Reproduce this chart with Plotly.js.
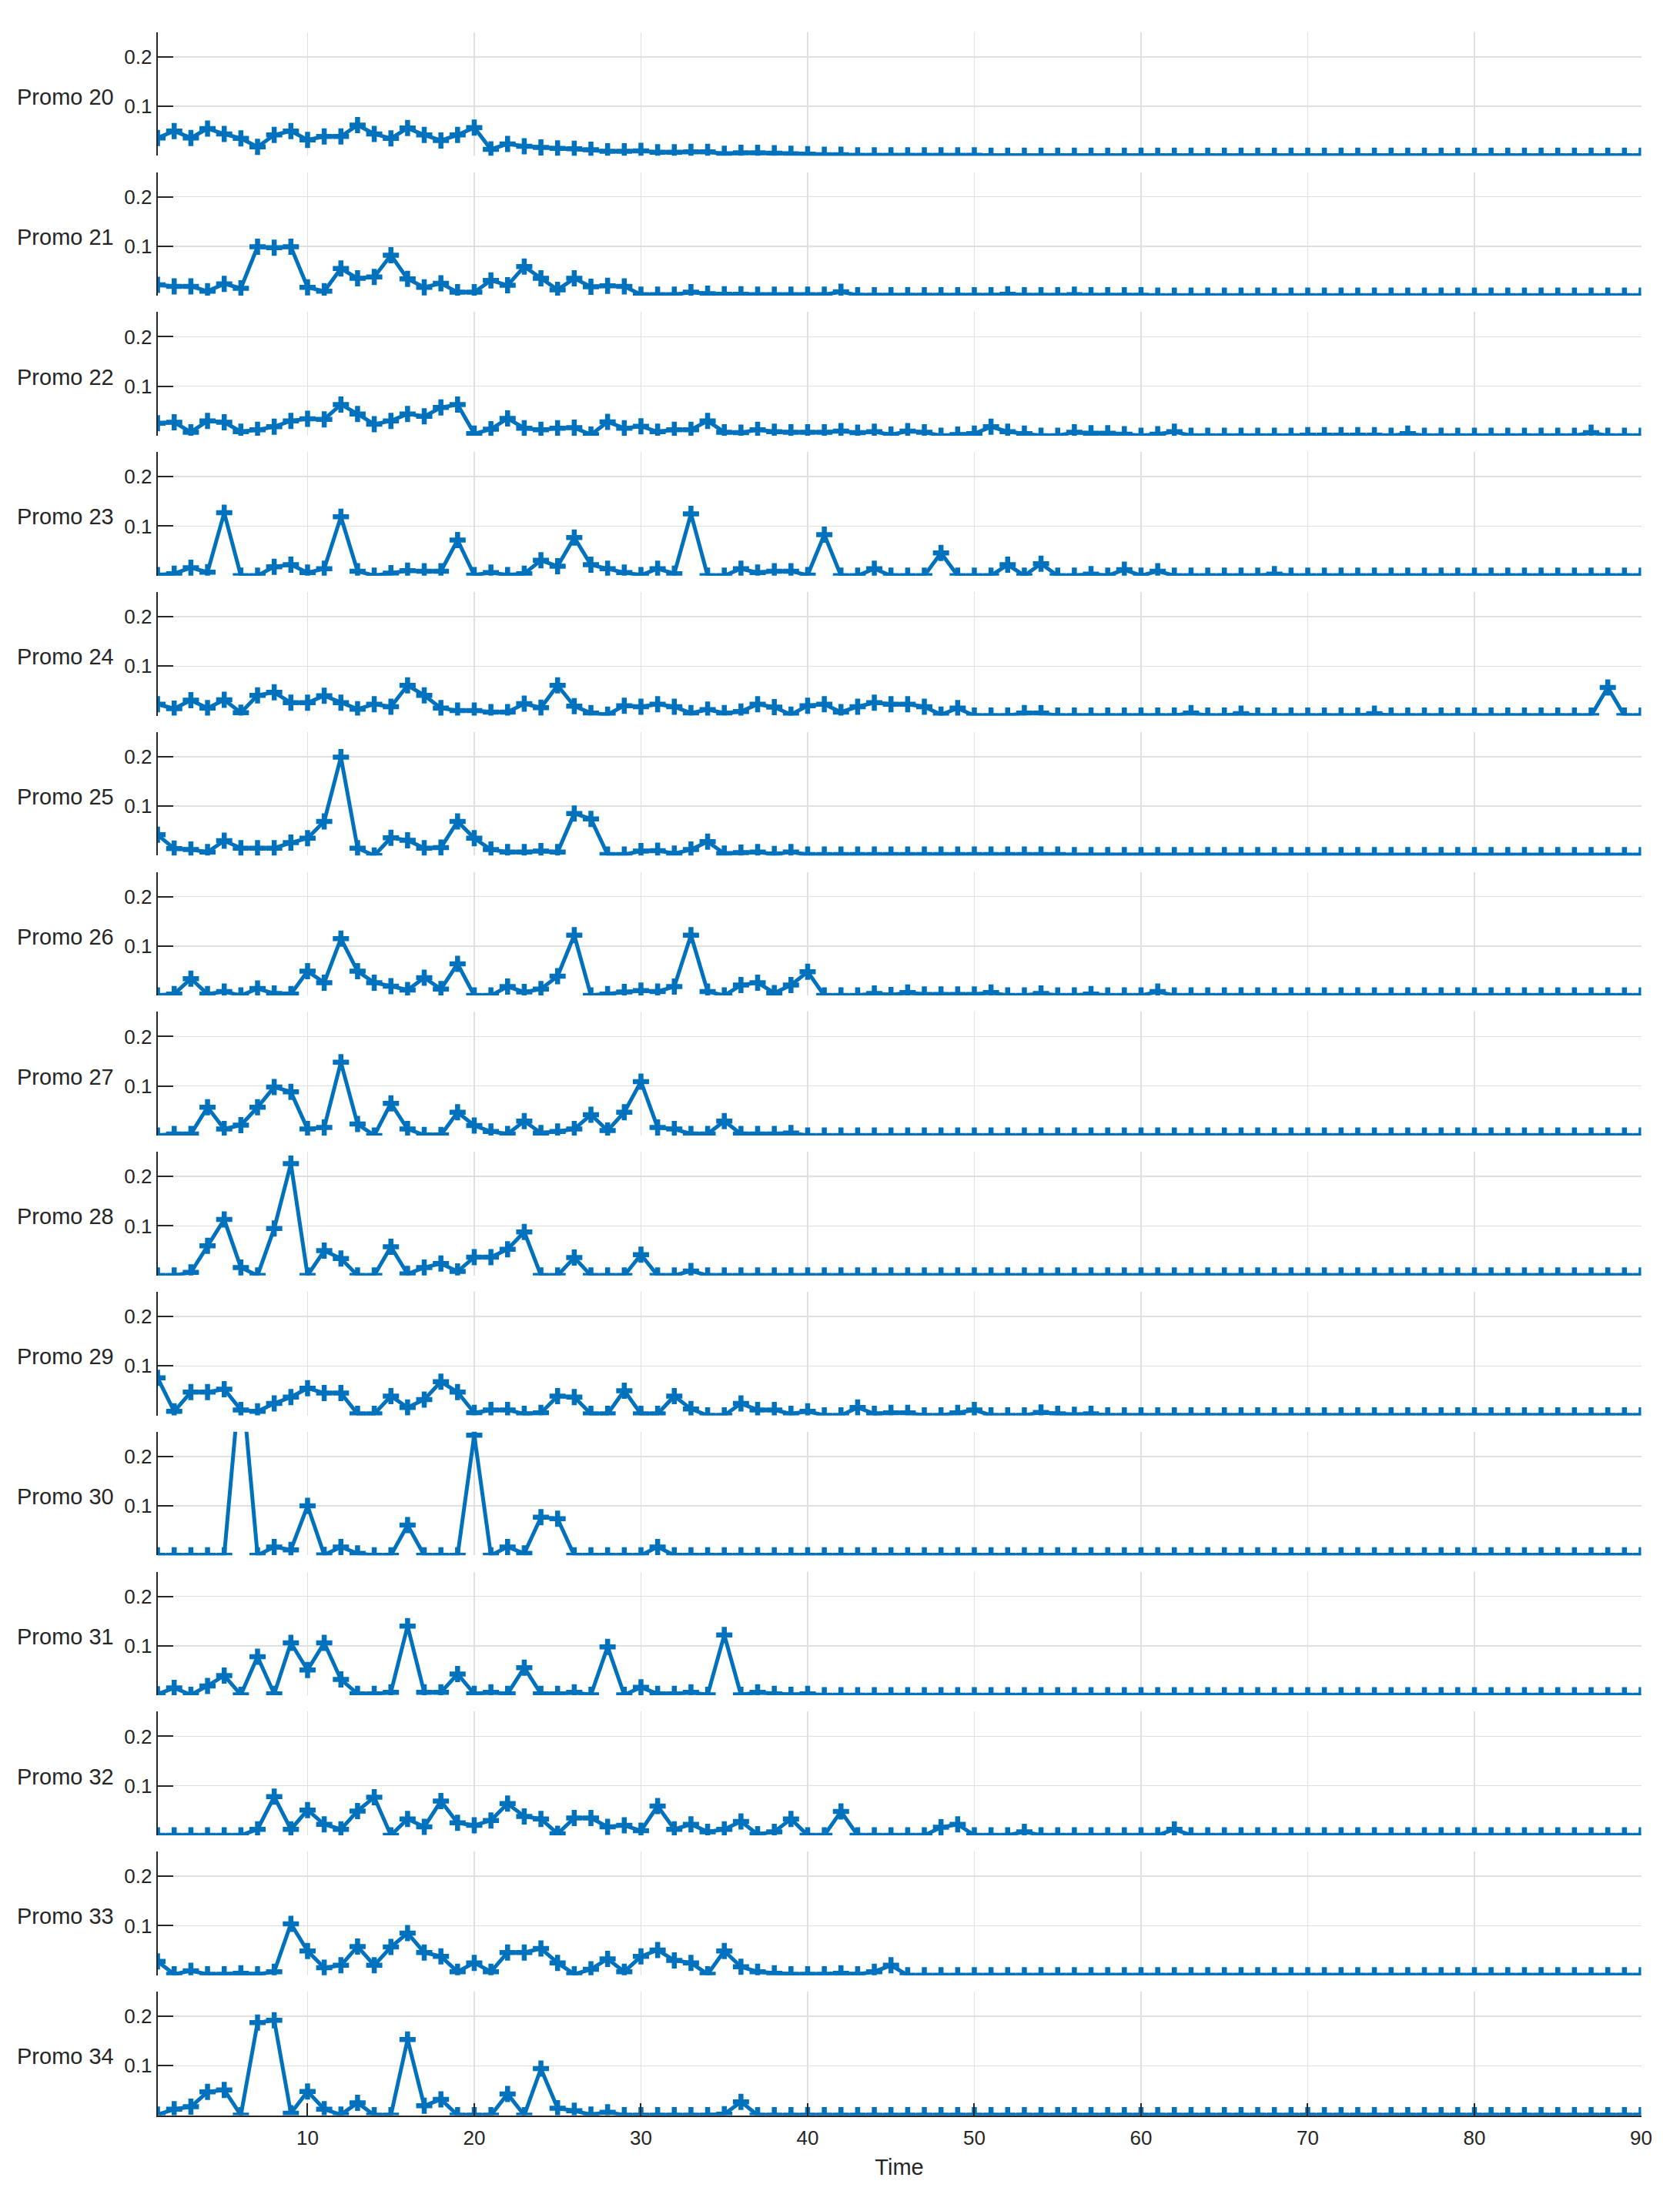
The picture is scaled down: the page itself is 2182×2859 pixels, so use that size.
<!DOCTYPE html>
<html>
<head>
<meta charset="utf-8">
<script src="https://cdn.plot.ly/plotly-3.0.1.min.js"></script>
<style>body{margin:0;background:#fff}</style>
</head>
<body>
<div id="chart" style="width:2182px;height:2859px"></div>
<script>
const time = [1,2,3,4,5,6,7,8,9,10,11,12,13,14,15,16,17,18,19,20,
  21,22,23,24,25,26,27,28,29,30,31,32,33,34,35,36,37,38,39,40,
  41,42,43,44,45,46,47,48,49,50,51,52,53,54,55,56,57,58,59,60,
  61,62,63,64,65,66,67,68,69,70,71,72,73,74,75,76,77,78,79,80,
  81,82,83,84,85,86,87,88,89,90];

const xTicks = [10,20,30,40,50,60,70,80,90];
const yTicks = [0, 0.1, 0.2];
const yTickText = ['', '0.1', '0.2'];

const promoNames = ['Promo 20','Promo 21','Promo 22','Promo 23','Promo 24','Promo 25','Promo 26',
  'Promo 27','Promo 28','Promo 29','Promo 30','Promo 31','Promo 32','Promo 33','Promo 34'];

const promo20 = [0.036,0.050,0.036,0.055,0.044,0.035,0.018,0.042,0.050,0.032,
  0.039,0.039,0.062,0.044,0.035,0.056,0.042,0.031,0.042,0.057,
  0.013,0.024,0.019,0.017,0.015,0.014,0.012,0.009,0.009,0.010,
  0.007,0.007,0.008,0.008,0.004,0.006,0.006,0.005,0.004,0.003,
  0.002,0.002,0.001,0.001,0.001,0.001,0.001,0.001,0.001,0.001,
  0,0,0,0,0,0,0,0,0,0, 0,0,0,0,0,0,0,0,0,0,
  0,0,0,0,0,0,0,0,0,0, 0,0,0,0,0,0,0,0,0,0];
const promo21 = [0.022,0.019,0.019,0.009,0.024,0.015,0.099,0.097,0.099,0.017,
  0.009,0.055,0.035,0.038,0.082,0.034,0.017,0.025,0.007,0.007,
  0.031,0.021,0.059,0.035,0.012,0.035,0.018,0.020,0.019,0.002,
  0.002,0.002,0.007,0.004,0.003,0.003,0.002,0.002,0.002,0.002,
  0.002,0.008,0.001,0.001,0.001,0.001,0.001,0.001,0.001,0.001,
  0.001,0.003,0.001,0.001,0.001,0.002,0.001,0.001,0.001,0.001,
  0,0,0,0,0,0,0,0,0,0, 0,0,0,0,0,0,0,0,0,0, 0,0,0,0,0,0,0,0,0,0];
const promo22 = [0.025,0.027,0.007,0.030,0.027,0.008,0.012,0.018,0.030,0.034,
  0.033,0.063,0.044,0.023,0.030,0.044,0.039,0.057,0.063,0.004,
  0.013,0.035,0.015,0.012,0.015,0.016,0.002,0.028,0.015,0.019,
  0.008,0.012,0.012,0.030,0.007,0.006,0.012,0.008,0.007,0.007,
  0.007,0.009,0.006,0.008,0.002,0.009,0.007,0,0.002,0.004,
  0.018,0.008,0.004,0,0,0.007,0.005,0.005,0.003,0,
  0.003,0.008,0,0,0,0,0,0,0,0.001,
  0.001,0.001,0.001,0.001,0,0.004,0,0,0,0,
  0,0,0,0,0,0,0.006,0,0,0];
const promo23 = [0.001,0.004,0.016,0.007,0.127,0,0,0.018,0.022,0.006,
  0.014,0.119,0.009,0,0.005,0.010,0.009,0.009,0.072,0.001,
  0.006,0.001,0.004,0.031,0.019,0.077,0.022,0.014,0.006,0.001,
  0.014,0.004,0.125,0,0,0.014,0.006,0.009,0.009,0.001,
  0.083,0,0,0.014,0,0,0,0.046,0,0,
  0,0.022,0,0.024,0,0,0.003,0,0.012,0,
  0.009,0,0,0,0,0,0,0.003,0,0,
  0,0,0,0,0,0,0,0,0,0, 0,0,0,0,0,0,0,0,0,0];
const promo24 = [0.023,0.014,0.031,0.015,0.032,0.006,0.041,0.047,0.026,0.026,
  0.040,0.026,0.013,0.023,0.018,0.061,0.041,0.015,0.010,0.010,
  0.007,0.007,0.024,0.016,0.061,0.019,0.005,0.002,0.020,0.018,
  0.023,0.018,0.005,0.012,0.005,0.008,0.023,0.017,0.002,0.020,
  0.023,0.007,0.018,0.026,0.023,0.023,0.018,0.002,0.015,0,
  0,0,0.005,0.005,0,0,0,0,0,0,
  0,0,0.005,0,0,0.004,0,0,0,0,
  0,0,0,0.004,0,0,0,0,0,0,
  0,0,0,0,0,0,0,0.057,0,0];
const promo25 = [0.042,0.014,0.012,0.007,0.030,0.015,0.015,0.015,0.026,0.035,
  0.069,0.199,0.015,0,0.036,0.031,0.015,0.016,0.069,0.035,
  0.012,0.007,0.007,0.009,0.007,0.085,0.074,0.002,0.002,0.009,
  0.010,0.004,0.012,0.028,0.004,0.006,0.007,0.003,0.007,0.002,
  0.002,0.002,0.002,0.002,0.002,0.002,0.002,0.002,0.002,0.002,
  0.002,0.002,0.002,0.002,0.002,0.001,0.001,0.001,0.001,0.001,
  0.001,0.001,0.001,0.001,0.001,0.001,0.001,0.001,0.001,0.001,
  0.001,0.001,0.001,0.001,0.001,0.001,0.001,0.001,0.001,0.001,
  0.001,0.001,0.001,0.001,0.001,0.001,0.001,0.001,0.001,0.001];
const promo26 = [0,0.003,0.034,0.003,0.008,0,0.014,0.004,0.003,0.049,
  0.026,0.115,0.049,0.026,0.019,0.011,0.036,0.013,0.064,0,
  0,0.018,0.007,0.013,0.039,0.122,0,0.003,0.007,0.010,
  0.008,0.018,0.122,0.008,0,0.021,0.026,0.005,0.021,0.048,
  0,0,0,0.004,0.001,0.006,0.002,0.002,0.002,0.002,
  0.006,0,0,0.004,0,0,0.003,0,0,0,
  0.008,0,0,0,0,0,0,0,0,0,
  0,0,0,0,0,0,0,0,0,0, 0,0,0,0,0,0,0,0,0,0];
const promo27 = [0,0.003,0.003,0.057,0.013,0.021,0.057,0.098,0.088,0.013,
  0.016,0.148,0.023,0,0.065,0.013,0.001,0.001,0.047,0.020,
  0.008,0.003,0.029,0.005,0.008,0.013,0.042,0.010,0.047,0.109,
  0.016,0.013,0.003,0.003,0.029,0.003,0.003,0.003,0.005,0,
  0,0,0,0,0,0,0,0,0,0, 0,0,0,0,0,0,0,0,0,0,
  0,0,0,0,0,0,0,0,0,0, 0,0,0,0,0,0,0,0,0,0, 0,0,0,0,0,0,0,0,0,0];
const promo28 = [0,0,0.006,0.060,0.113,0.016,0,0.095,0.226,0,
  0.050,0.034,0,0,0.058,0.003,0.016,0.024,0.008,0.037,
  0.037,0.053,0.088,0,0,0.036,0,0,0,0.042,
  0,0,0.009,0,0,0,0,0,0,0,
  0,0,0,0,0,0,0,0,0,0, 0,0,0,0,0,0,0,0,0,0,
  0,0,0,0,0,0,0,0,0,0, 0,0,0,0,0,0,0,0,0,0, 0,0,0,0,0,0,0,0,0,0];
const promo29 = [0.076,0.008,0.047,0.047,0.053,0.011,0.008,0.024,0.037,0.055,
  0.045,0.045,0.003,0.003,0.039,0.016,0.032,0.068,0.047,0.005,
  0.011,0.011,0.003,0.005,0.039,0.037,0.003,0.003,0.050,0.003,
  0.003,0.039,0.013,0,0,0.024,0.011,0.011,0.003,0.008,
  0,0,0.016,0.003,0.005,0.005,0,0,0.005,0.011,
  0,0,0,0.006,0.003,0.001,0.003,0,0,0,
  0,0,0,0,0,0,0,0,0,0, 0,0,0,0,0,0,0,0,0,0, 0,0,0,0,0,0,0,0,0,0];
const promo30 = [0,0,0,0,0,0.375,0,0.017,0.011,0.100,
  0.001,0.017,0.004,0,0,0.061,0,0,0,0.243,
  0,0.017,0.004,0.077,0.074,0,0,0,0,0,
  0.017,0,0,0,0,0,0,0,0,0,
  0,0,0,0,0,0,0,0,0,0, 0,0,0,0,0,0,0,0,0,0,
  0,0,0,0,0,0,0,0,0,0, 0,0,0,0,0,0,0,0,0,0, 0,0,0,0,0,0,0,0,0,0];
const promo31 = [0.002,0.015,0.001,0.019,0.040,0.001,0.078,0.003,0.106,0.051,
  0.106,0.032,0.003,0.003,0.006,0.140,0.006,0.006,0.043,0.003,
  0.006,0.003,0.056,0.003,0.003,0.006,0.001,0.098,0.001,0.016,
  0.003,0.003,0.006,0.001,0.122,0.001,0.006,0.003,0.001,0.003,
  0,0,0,0,0,0,0,0,0,0, 0,0,0,0,0,0,0,0,0,0,
  0,0,0,0,0,0,0,0,0,0, 0,0,0,0,0,0,0,0,0,0, 0,0,0,0,0,0,0,0,0,0];
const promo32 = [0,0,0,0,0,0,0.012,0.078,0.012,0.051,
  0.022,0.012,0.049,0.077,0,0.033,0.017,0.069,0.025,0.020,
  0.030,0.064,0.038,0.033,0.003,0.035,0.035,0.017,0.020,0.009,
  0.059,0.012,0.022,0.007,0.012,0.028,0.002,0.007,0.033,0,
  0,0.048,0,0,0,0,0,0.016,0.022,0,
  0,0,0.007,0,0,0,0,0,0,0,
  0,0.012,0,0,0,0,0,0,0,0,
  0,0,0,0,0,0,0,0,0,0, 0,0,0,0,0,0,0,0,0,0];
const promo33 = [0.028,0.002,0.009,0.002,0.002,0.004,0.002,0.007,0.104,0.049,
  0.015,0.020,0.058,0.020,0.057,0.085,0.046,0.038,0.007,0.025,
  0.007,0.046,0.046,0.054,0.025,0.002,0.012,0.033,0.007,0.038,
  0.051,0.030,0.025,0.002,0.049,0.017,0.007,0.004,0.002,0.002,
  0.002,0.004,0.002,0.007,0.020,0,0,0,0,0,
  0,0,0,0,0,0,0,0,0,0, 0,0,0,0,0,0,0,0,0,0,
  0,0,0,0,0,0,0,0,0,0, 0,0,0,0,0,0,0,0,0,0];
const promo34 = [0.001,0.012,0.017,0.047,0.051,0,0.187,0.192,0.004,0.048,
  0.012,0.001,0.025,0,0,0.153,0.019,0.032,0,0,
  0,0.043,0,0.094,0.014,0.009,0.001,0.006,0,0,
  0,0,0,0,0.002,0.027,0,0,0,0,
  0,0,0,0,0,0,0,0,0,0, 0,0,0,0,0,0,0,0,0,0,
  0,0,0,0,0,0,0,0,0,0, 0,0,0,0,0,0,0,0,0,0, 0,0,0,0,0,0,0,0,0,0];

const series = [promo20, promo21, promo22, promo23, promo24, promo25, promo26, promo27,
  promo28, promo29, promo30, promo31, promo32, promo33, promo34];

function stackedPromos(div){
    const W = 2182, H = 2859;
    const blue = '#0072BD';
    const ink = '#262626';
    const grid = '#e0e0e0';
    const font = 'Liberation Sans, Arial, Helvetica, sans-serif';

    // panel geometry in px, measured on the reference
    const left = 204.6, right = 2131.5;
    const top0 = 41.7, panelH = 160.6, step = 181.8;

    const traces = [];
    const layout = {
        width: W, height: H,
        margin: {l: 0, r: 0, t: 0, b: 0},
        paper_bgcolor: 'white',
        plot_bgcolor: 'white',
        showlegend: false,
        font: {family: font, color: ink, size: 26},
        annotations: []
    };

    const n = series.length;
    for (let i = 0; i < n; i++) {
        const sfx = i === 0 ? '' : String(i + 1);
        const isLast = i === n - 1;
        const top = top0 + step * i;
        const bot = top + panelH;

        traces.push({
            x: time,
            y: series[i],
            xaxis: 'x' + sfx,
            yaxis: 'y' + sfx,
            type: 'scatter',
            mode: 'lines+markers',
            line: {color: blue, width: 5},
            marker: {symbol: 'cross-thin', size: 15, line: {color: blue, width: 6.5}},
            hoverinfo: 'x+y'
        });

        layout['xaxis' + sfx] = {
            domain: [left / W, right / W],
            anchor: 'y' + sfx,
            range: [1, 90],
            tickvals: xTicks,
            showticklabels: isLast,
            ticks: isLast ? 'inside' : '',
            ticklen: 16,
            tickwidth: 2,
            tickcolor: ink,
            tickfont: {size: 26, color: ink},
            ticklabelstandoff: 5,
            showgrid: true,
            gridcolor: grid,
            gridwidth: 1.5,
            zeroline: false,
            showline: isLast,
            linecolor: ink,
            linewidth: 2,
            title: isLast ? {text: 'Time', font: {size: 29, color: ink}, standoff: 14} : {text: ''}
        };

        layout['yaxis' + sfx] = {
            domain: [1 - bot / H, 1 - top / H],
            anchor: 'x' + sfx,
            range: [0, 0.25],
            tickvals: yTicks,
            ticktext: yTickText,
            ticks: 'inside',
            ticklen: 20,
            tickwidth: 2,
            tickcolor: ink,
            tickfont: {size: 26, color: ink},
            showgrid: true,
            gridcolor: grid,
            gridwidth: 1.5,
            zeroline: false,
            showline: true,
            linecolor: ink,
            linewidth: 2
        };

        layout.annotations.push({
            text: promoNames[i],
            xref: 'paper', x: 150 / W, xanchor: 'right',
            yref: 'y' + sfx + ' domain', y: 0.5, yanchor: 'middle',
            yshift: -4,
            showarrow: false,
            font: {size: 29, color: ink, family: font}
        });
    }

    Plotly.newPlot(div, traces, layout, {staticPlot: true});
}

stackedPromos('chart');
</script>
</body>
</html>
